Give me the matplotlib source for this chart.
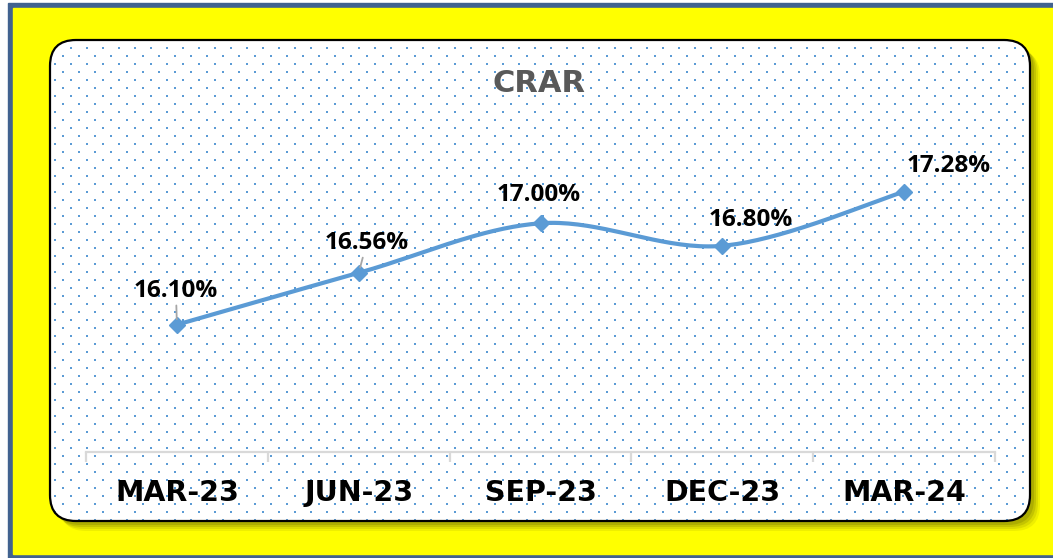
import numpy as np
import matplotlib
matplotlib.use("Agg")
import matplotlib.pyplot as plt
from matplotlib.patches import FancyBboxPatch, Rectangle
from matplotlib.transforms import blended_transform_factory

# ---- data ----
categories = ["MAR-23", "JUN-23", "SEP-23", "DEC-23", "MAR-24"]
crar = [16.10, 16.56, 17.00, 16.80, 17.28]
labels = ["16.10%", "16.56%", "17.00%", "16.80%", "17.28%"]
title = "CRAR"

# label offsets in pixels (dx, dy up)
label_offsets = [(-1, 34), (8, 30), (-2, 28), (28, 26), (45, 26)]
leader = [True, True, False, False, False]

W, H = 1053, 558
fig = plt.figure(figsize=(W / 100, H / 100), dpi=100)

# ---- background / frame ----
bg = fig.add_axes([0, 0, 1, 1])
bg.set_xlim(0, W)
bg.set_ylim(H, 0)
bg.axis("off")
bg.add_patch(Rectangle((0, 0), W, H, color="white", zorder=0))
bg.add_patch(Rectangle((8, 3), W - 8, H - 3, color="#41628F", zorder=1))
bg.add_patch(Rectangle((13, 8), W - 13, 554 - 8, color="#FFFF00", zorder=2))

bx0, by0, bx1, by1 = 50, 40, 1030, 521
rs = 26
# shadow
for i, (off, a) in enumerate([(10, 0.10), (8, 0.15), (6, 0.2), (4, 0.25)]):
    bg.add_patch(FancyBboxPatch((bx0 + off, by0 + off), bx1 - bx0, by1 - by0,
                                boxstyle=f"round,pad=0,rounding_size={rs}",
                                facecolor="#6B6B00", edgecolor="none", alpha=a, zorder=3))
box = FancyBboxPatch((bx0, by0), bx1 - bx0, by1 - by0,
                     boxstyle=f"round,pad=0,rounding_size={rs}",
                     facecolor="white", edgecolor="none", zorder=4)
bg.add_patch(box)
# dotted pattern
px, py = [], []
for r, yy in enumerate(np.arange(47.7, by1, 8)):
    start = 70.7 if r % 2 == 0 else 62.7
    for xx in np.arange(start - 16 * 2, bx1, 16):
        px.append(xx)
        py.append(yy)
sc = bg.scatter(px, py, s=2.2, marker="s", color="#5B9BD5", linewidths=0, zorder=5)
sc.set_clip_path(box)
bg.add_patch(FancyBboxPatch((bx0, by0), bx1 - bx0, by1 - by0,
                            boxstyle=f"round,pad=0,rounding_size={rs}",
                            facecolor="none", edgecolor="black", linewidth=1.6, zorder=6))

# title
bg.text(539, 84, title, ha="center", va="center", fontsize=22, fontweight="bold",
        color="#595959", family="DejaVu Sans", zorder=7)

# ---- data axes ----
ax_l, ax_r, ax_b, ax_t = 86, 995, 452, 114
ax = fig.add_axes([ax_l / W, (H - ax_b) / H, (ax_r - ax_l) / W, (ax_b - ax_t) / H])
ax.set_facecolor("none")
ax.set_xlim(-0.5, len(categories) - 0.5)
ax.set_ylim(14.97, 17.97)
for s in ["top", "right", "left"]:
    ax.spines[s].set_visible(False)
ax.spines["bottom"].set_color("#D9D9D9")
ax.spines["bottom"].set_linewidth(1.6)
ax.set_yticks([])
ax.set_xticks(np.arange(-0.5, len(categories), 1.0))
ax.set_xticklabels([])
ax.tick_params(axis="x", length=7, width=1.6, color="#D9D9D9", direction="out")

trans = blended_transform_factory(ax.transData, ax.transAxes)
for i, c in enumerate(categories):
    ax.text(i, (ax_b - 493) / (ax_b - ax_t), c, transform=trans, ha="center", va="center",
            fontsize=20.5, fontweight="bold", family="DejaVu Sans", color="black")

# smooth line (Bezier, Excel-style smoothing)
x = np.arange(len(crar), dtype=float)
y = np.array(crar, dtype=float)
cx, cy = [], []
t = np.linspace(0, 1, 40)
for i in range(len(x) - 1):
    p0 = np.array([x[max(i - 1, 0)], y[max(i - 1, 0)]])
    p1 = np.array([x[i], y[i]])
    p2 = np.array([x[i + 1], y[i + 1]])
    p3 = np.array([x[min(i + 2, len(x) - 1)], y[min(i + 2, len(x) - 1)]])
    c1 = p1 + (p2 - p0) / 6
    c2 = p2 - (p3 - p1) / 6
    b = ((1 - t) ** 3)[:, None] * p1 + (3 * (1 - t) ** 2 * t)[:, None] * c1 + \
        (3 * (1 - t) * t ** 2)[:, None] * c2 + (t ** 3)[:, None] * p2
    cx.extend(b[:, 0])
    cy.extend(b[:, 1])
ax.plot(cx, cy, color="#5B9BD5", linewidth=3, solid_capstyle="round", zorder=3, clip_on=False)
ax.plot(x, y, linestyle="none", marker="D", markersize=8, color="#5B9BD5", zorder=4, clip_on=False)

for i, (lab, (dx, dy)) in enumerate(zip(labels, label_offsets)):
    kw = {}
    if leader[i]:
        kw["arrowprops"] = dict(arrowstyle="-", color="#A6A6A6", lw=1.3, shrinkA=0, shrinkB=4)
    ax.annotate(lab, xy=(x[i], y[i]), xytext=(dx, dy), textcoords="offset pixels",
                ha="center", va="center", fontsize=17.5, fontweight="bold",
                family="Open Sans", color="black", zorder=5, **kw)

fig.savefig("out.png", dpi=100)
